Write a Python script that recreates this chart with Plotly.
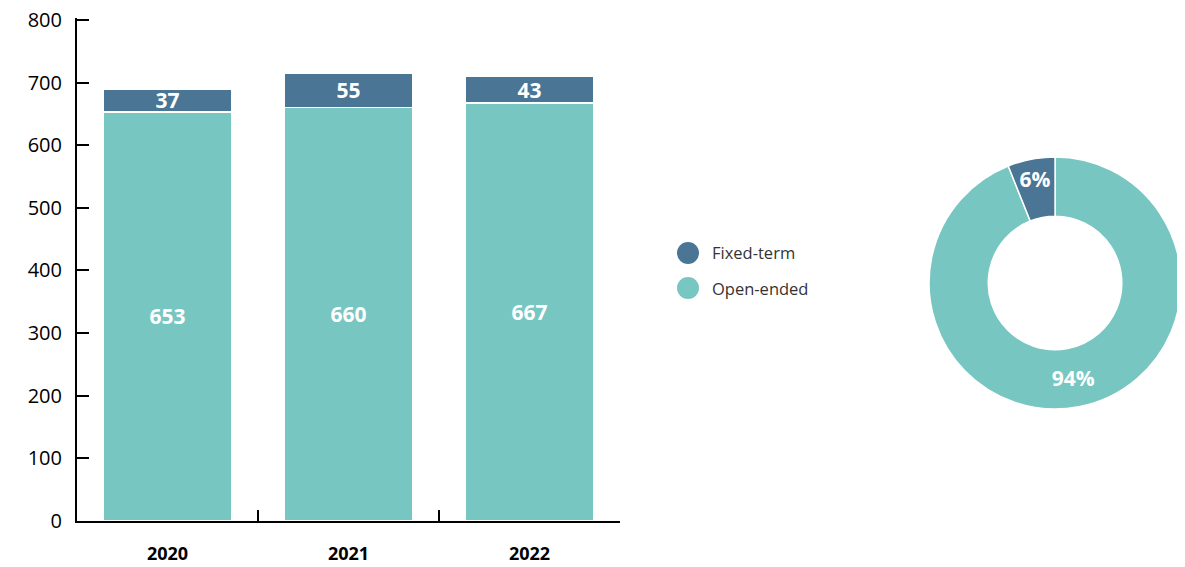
import plotly.graph_objects as go

years = ["2020", "2021", "2022"]
open_ended = [653, 660, 667]
fixed_term = [37, 55, 43]
series_names = ["Fixed-term", "Open-ended"]
y_ticks = [0, 100, 200, 300, 400, 500, 600, 700, 800]

C_FIXED = "#4A7594"
C_OPEN = "#78C6C1"
FONT = "Open Sans"

fig = go.Figure()
fig.add_trace(go.Bar(
    x=years, y=open_ended, name="Open-ended", marker=dict(color=C_OPEN, line=dict(color="white", width=1.5)),
    text=open_ended, textposition="inside", insidetextanchor="middle", textangle=0,
    textfont=dict(family=FONT, size=21, color="white", weight="bold"),
    width=0.71, showlegend=False, xaxis="x", yaxis="y",
))
fig.add_trace(go.Bar(
    x=years, y=fixed_term, name="Fixed-term", marker=dict(color=C_FIXED, line=dict(color="white", width=1.5)),
    text=fixed_term, textposition="inside", insidetextanchor="middle", textangle=0,
    textfont=dict(family=FONT, size=21, color="white", weight="bold"),
    width=0.71, showlegend=False, xaxis="x", yaxis="y",
))

# donut for latest year
fig.add_trace(go.Pie(
    labels=["Open-ended", "Fixed-term"], values=[open_ended[-1], fixed_term[-1]],
    marker=dict(colors=[C_OPEN, C_FIXED], line=dict(color="white", width=1.5)),
    hole=0.53, sort=False, direction="clockwise", rotation=0,
    texttemplate="%{percent:.0%}", textposition="inside", insidetextorientation="horizontal",
    textfont=dict(family=FONT, size=21, color="white", weight="bold"),
    domain=dict(x=[0.769, 0.9964], y=[0.2236 * 501 / 503, 0.7265 * 501 / 503]), showlegend=False,
))

# page body has an 8px margin, so the figure is sized/offset to compensate
fig.update_layout(
    width=1177, height=559,
    margin=dict(l=69, r=0, t=10, b=46, autoexpand=False),
    paper_bgcolor="white", plot_bgcolor="white",
    barmode="stack",
    font=dict(family=FONT, color="black"),
    uniformtext=dict(minsize=21, mode="show"),
    xaxis=dict(
        domain=[0, 0.4901], range=[-0.5, 2.5], type="category", automargin=False,
        showline=True, linecolor="black", linewidth=2,
        ticks="inside", tickson="boundaries", ticklen=11, tickwidth=2, tickcolor="black",
        tickfont=dict(family=FONT, size=18, color="black", weight="bold"),
        ticklabelstandoff=15, showgrid=False, zeroline=False,
    ),
    yaxis=dict(
        range=[0, 803], tickvals=y_ticks, automargin=False,
        showline=True, linecolor="black", linewidth=2,
        ticks="inside", ticklen=12, tickwidth=2, tickcolor="black",
        tickfont=dict(family=FONT, size=20, color="black"),
        ticklabelstandoff=9, ticklabeloverflow="allow", showgrid=False, zeroline=False,
    ),
)

# custom legend with large circular markers
legend_y = [0.535, 0.465]
for name, col, yy in zip(series_names, [C_FIXED, C_OPEN], legend_y):
    fig.add_shape(type="circle", xref="paper", yref="paper", xsizemode="pixel", ysizemode="pixel",
                  xanchor=(688 - 77) / 1108, yanchor=yy * 501 / 503, x0=-11, x1=11, y0=-11, y1=11,
                  fillcolor=col, line=dict(width=0))
    fig.add_annotation(text=name, xref="paper", yref="paper", x=(710 - 77) / 1108, y=yy * 501 / 503,
                       xanchor="left", yanchor="middle", showarrow=False,
                       font=dict(family=FONT, size=16.5, color="#333333"))

fig.write_html("out.html")
